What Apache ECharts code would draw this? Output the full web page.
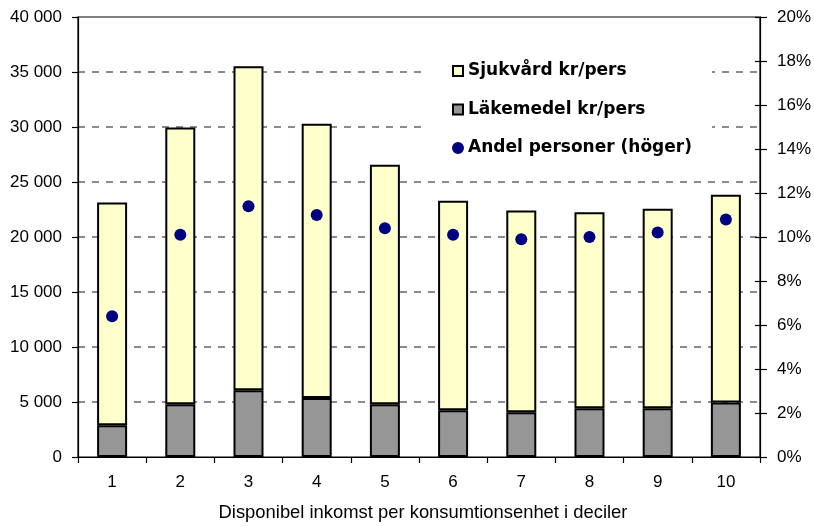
<!DOCTYPE html>
<html>
<head>
<meta charset="utf-8">
<script src="https://cdn.jsdelivr.net/npm/echarts@6/dist/echarts.min.js"></script>
<style>
  html, body { margin: 0; padding: 0; background: #fff; }
  #chart { width: 814px; height: 527px; }
</style>
</head>
<body>
<div id="chart"></div>
<script>
// Income deciles
const deciles = ['1', '2', '3', '4', '5', '6', '7', '8', '9', '10'];
// Drug costs, SEK per person (lower segment of each bar)
const lakemedel = [2890, 4800, 6070, 5370, 4800, 4250, 4070, 4430, 4430, 4950];
// Health care costs, SEK per person (upper segment of each bar)
const sjukvard = [20240, 25160, 29450, 24930, 21770, 19040, 18330, 17830, 18130, 18880];
// Share of persons, percent (right axis)
const andel = [6.4, 10.1, 11.4, 11.0, 10.4, 10.1, 9.9, 10.0, 10.2, 10.8];

const names = {
  sjukvard: 'Sjukvård kr/pers',
  lakemedel: 'Läkemedel kr/pers',
  andel: 'Andel personer (höger)'
};
const axisTitle = 'Disponibel inkomst per konsumtionsenhet i deciler';

const FONT = '"Liberation Sans", Arial, sans-serif';

function thousands(v) {
  return String(v).replace(/\B(?=(\d{3})+(?!\d))/g, ' ');
}

const chart = echarts.init(document.getElementById('chart'), null, { renderer: 'canvas' });

chart.setOption({
  animation: false,
  backgroundColor: '#fff',
  textStyle: { fontFamily: FONT, color: '#000' },
  grid: {
    left: 78, right: 52, top: 17, bottom: 70,
    show: true, borderColor: '#000', borderWidth: 1.2,
    backgroundColor: 'transparent'
  },
  legend: {
    orient: 'vertical',
    left: 425, top: 51,
    padding: [10, 20, 10, 27],
    backgroundColor: '#fff',
    itemWidth: 10, itemHeight: 10,
    itemGap: 18.5,
    data: [
      { name: names.sjukvard, icon: 'rect' },
      { name: names.lakemedel, icon: 'rect' },
      { name: names.andel, icon: 'circle', itemStyle: { borderColor: '#000080', borderWidth: 2 } }
    ],
    textStyle: {
      fontFamily: '"DejaVu Sans", sans-serif',
      fontWeight: 'bold',
      fontSize: 17,
      lineHeight: 20,
      color: '#000'
    }
  },
  xAxis: {
    type: 'category',
    data: deciles,
    boundaryGap: true,
    axisLine: { lineStyle: { color: '#000', width: 1.2 } },
    axisTick: { show: true, alignWithLabel: false, length: 6, lineStyle: { color: '#000', width: 1.2 } },
    axisLabel: { fontSize: 17, color: '#000', margin: 17, fontFamily: FONT },
    name: axisTitle,
    nameLocation: 'middle',
    nameGap: 47,
    nameTextStyle: { fontSize: 18.4, color: '#000', fontFamily: FONT, padding: [0, 0, 0, 8] }
  },
  yAxis: [
    {
      type: 'value',
      min: 0, max: 40000, interval: 5000,
      axisLine: { show: true, lineStyle: { color: '#000', width: 1.2 } },
      axisTick: { show: true, length: 6, lineStyle: { color: '#000', width: 1.2 } },
      axisLabel: {
        fontSize: 17, color: '#000', margin: 16, fontFamily: FONT,
        formatter: v => thousands(v)
      },
      splitLine: {
        show: true, showMinLine: false, showMaxLine: false,
        lineStyle: { color: '#666', width: 1.5, type: [7, 7] }
      }
    },
    {
      type: 'value',
      position: 'right',
      min: 0, max: 20, interval: 2,
      axisLine: { show: true, lineStyle: { color: '#000', width: 1.2 } },
      axisTick: { show: true, length: 7, lineStyle: { color: '#000', width: 1.2 } },
      axisLabel: {
        fontSize: 17, color: '#000', margin: 17, fontFamily: FONT,
        formatter: '{value}%'
      },
      splitLine: { show: false }
    },
    {
      // inner half of the crossing ticks on the right axis
      type: 'value',
      position: 'right',
      min: 0, max: 20, interval: 2,
      axisLine: { show: false },
      axisTick: { show: true, inside: true, length: 5, lineStyle: { color: '#000', width: 1.2 } },
      axisLabel: { show: false },
      splitLine: { show: false }
    }
  ],
  series: [
    {
      name: names.lakemedel,
      type: 'bar',
      stack: 'kostnad',
      data: lakemedel,
      barWidth: 30,
      itemStyle: { color: '#969696', borderColor: '#000', borderWidth: 2 },
      z: 2
    },
    {
      name: names.sjukvard,
      type: 'bar',
      stack: 'kostnad',
      data: sjukvard,
      barWidth: 30,
      itemStyle: { color: '#FFFFCC', borderColor: '#000', borderWidth: 2 },
      z: 2
    },
    {
      name: names.andel,
      type: 'scatter',
      yAxisIndex: 1,
      data: andel,
      symbol: 'circle',
      symbolSize: 12,
      itemStyle: { color: '#000080', opacity: 1 },
      z: 5
    }
  ]
});
</script>
</body>
</html>
